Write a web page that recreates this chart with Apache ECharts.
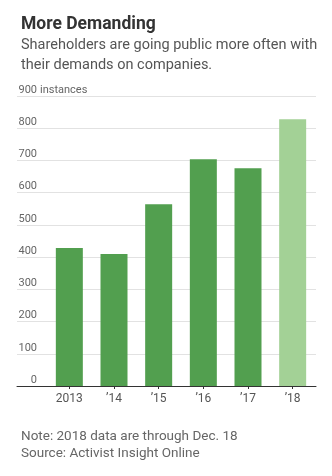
<!DOCTYPE html>
<html>
<head>
<meta charset="utf-8">
<script src="https://cdn.jsdelivr.net/npm/echarts@6/dist/echarts.min.js"></script>
<style>
html,body{margin:0;padding:0;background:#fff;}
#c{width:332px;height:476px;}
</style>
</head>
<body>
<div id="c"></div>
<script>
const categories = ['2013', '\u201914', '\u201915', '\u201916', '\u201917', '\u201918'];
const instances = [428, 410, 564, 704, 676, 828];
const partialYear = [false, false, false, false, false, true];
const yTicks = [0, 100, 200, 300, 400, 500, 600, 700, 800, 900];
const yUnit = 'instances';

const FONT = "Roboto, 'Noto Sans', sans-serif";
const chart = echarts.init(document.getElementById('c'), null, {renderer: 'canvas'});

const yMin = yTicks[0], yMax = yTicks[yTicks.length - 1], yStep = yTicks[1] - yTicks[0];

chart.setOption({
  animation: false,
  backgroundColor: '#fff',
  textStyle: {fontFamily: FONT},
  title: [
    {
      text: 'More Demanding', left: 16, top: 10,
      textStyle: {fontFamily: FONT, fontSize: 17.5, fontWeight: 'bold', color: '#333', lineHeight: 20}
    },
    {
      text: 'Shareholders are going public more often with\ntheir demands on companies.',
      left: 16, top: 30,
      textStyle: {fontFamily: FONT, fontSize: 14.5, fontWeight: 'normal', color: '#555', lineHeight: 20}
    },
    {
      text: 'Note: 2018 data are through Dec. 18\nSource: Activist Insight Online',
      left: 16, top: 423,
      textStyle: {fontFamily: FONT, fontSize: 13.5, fontWeight: 'normal', color: '#666', lineHeight: 17}
    }
  ],
  grid: [
    {left: 17, right: 16, top: 96, height: 290, containLabel: false},
    {left: 47, right: 17, top: 96, height: 290, containLabel: false}
  ],
  xAxis: [
    {
      gridIndex: 0, type: 'value', min: 0, max: 1,
      axisLine: {show: true, onZero: false, lineStyle: {color: '#333', width: 1}},
      axisTick: {show: false}, axisLabel: {show: false}, splitLine: {show: false}
    },
    {
      gridIndex: 1, type: 'category', data: categories,
      axisLine: {show: false},
      axisTick: {show: true, alignWithLabel: true, length: 3, lineStyle: {color: '#333'}},
      axisLabel: {color: '#555', fontSize: 12, fontFamily: FONT, margin: 7}
    }
  ],
  yAxis: [
    {
      gridIndex: 0, type: 'value', min: yMin, max: yMax, interval: yStep,
      axisLine: {show: false}, axisTick: {show: false},
      splitLine: {show: true, lineStyle: {color: '#e2e2e2', width: 1}},
      axisLabel: {
        inside: true, margin: 20, align: 'right', verticalAlign: 'bottom',
        color: '#666', fontSize: 11, fontFamily: FONT, lineHeight: 12,
        showMinLabel: true, showMaxLabel: true
      },
      name: yUnit, nameLocation: 'end', nameGap: 0, nameMoveOverlap: false,
      nameTextStyle: {align: 'left', verticalAlign: 'bottom', color: '#666', fontSize: 11, fontFamily: FONT, lineHeight: 12, padding: [0, 0, 0, 23]}
    },
    {
      gridIndex: 1, type: 'value', min: yMin, max: yMax, interval: yStep, show: false,
      splitLine: {show: false}
    }
  ],
  series: [
    {
      type: 'bar', xAxisIndex: 1, yAxisIndex: 1, barWidth: 27,
      data: instances.map((v, i) => ({
        value: v,
        itemStyle: {color: partialYear[i] ? '#a3d196' : '#529f4f'}
      }))
    }
  ]
});
</script>
</body>
</html>
